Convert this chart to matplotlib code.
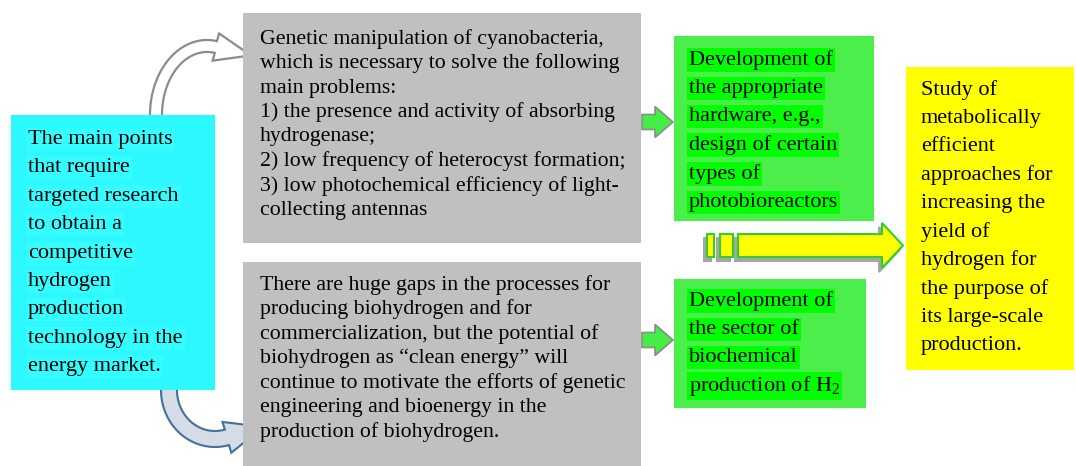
import numpy as np
import matplotlib.pyplot as plt
from matplotlib.patches import Rectangle, FancyArrow, Polygon

plt.rcParams['font.family'] = ['Liberation Serif', 'DejaVu Serif']
plt.rcParams['mathtext.fontset'] = 'custom'
plt.rcParams['mathtext.rm'] = 'Liberation Serif'

#-------------------------------------------------
# Texts of the boxes
#-------------------------------------------------
main_lines = ["The main points", "that require", "targeted research", "to obtain a",
              "competitive", "hydrogen", "production", "technology in the",
              "energy market."]
genetic_lines = ["Genetic manipulation of cyanobacteria,",
                 "which is necessary to solve the following",
                 "main problems:",
                 "1) the presence and activity of absorbing",
                 "hydrogenase;",
                 "2) low frequency of heterocyst formation;",
                 "3) low photochemical efficiency of light-",
                 "collecting antennas"]
gaps_lines = ["There are huge gaps in the processes for",
              "producing biohydrogen and for",
              "commercialization, but the potential of",
              "biohydrogen as \u201cclean energy\u201d will",
              "continue to motivate the efforts of genetic",
              "engineering and bioenergy in the",
              "production of biohydrogen."]
hardware_lines = ["Development of", "the appropriate", "hardware, e.g.,",
                  "design of certain", "types of", "photobioreactors"]
sector_lines = ["Development of", "the sector of", "biochemical",
                "production of H$_{2}$"]
study_lines = ["Study of", "metabolically", "efficient", "approaches for",
               "increasing the", "yield of", "hydrogen for", "the purpose of",
               "its large-scale", "production."]

fig = plt.figure(figsize=(10.76, 4.66), dpi=100)
ax = fig.add_axes([0, 0, 1, 1])
ax.set_xlim(0, 1076)
ax.set_ylim(466, 0)
ax.axis('off')


def box(x0, y0, x1, y1, color, lines, tx, ty, step, size, hl=None):
    ax.add_patch(Rectangle((x0, y0), x1 - x0, y1 - y0, facecolor=color,
                           edgecolor='none', zorder=2))
    for i, s in enumerate(lines):
        kw = {}
        if hl:
            kw['bbox'] = dict(facecolor=hl, edgecolor='none', pad=1.5)
        ax.text(tx, ty + i * step, s, fontsize=size, va='center', ha='left',
                color='black', zorder=4, **kw)


def curved_arrow(cx, cy, rx, ry, t0, t1, w, hw, hl, fc, ec, lw):
    # band along an elliptic arc (screen coords, y down) + a triangular head
    t = np.radians(np.linspace(t0, t1, 80))
    outer = np.c_[cx + (rx + w / 2) * np.cos(t), cy - (ry + w / 2) * np.sin(t)]
    inner = np.c_[cx + (rx - w / 2) * np.cos(t), cy - (ry - w / 2) * np.sin(t)]
    te = t[-1]
    sgn = np.sign(t1 - t0)
    p = np.array([cx + rx * np.cos(te), cy - ry * np.sin(te)])
    d = sgn * np.array([-rx * np.sin(te), -ry * np.cos(te)])
    d = d / np.hypot(*d)
    n = np.array([-d[1], d[0]])
    # tail hidden under the cyan box
    ext = np.array([0, 12]) if t1 < t0 else np.array([0, -12])
    head = [p + n * hw / 2, p + d * hl, p - n * hw / 2]
    if np.dot(head[0] - p, outer[-1] - p) < 0:
        head = head[::-1]
    pts = [outer[0] + ext] + list(outer) + head + list(inner[::-1]) + [inner[0] + ext]
    ax.add_patch(Polygon(pts, closed=True, facecolor=fc, edgecolor=ec,
                         lw=lw, joinstyle='miter', zorder=1))


#-------------------------------------------------
# Curved arrows (behind the boxes)
#-------------------------------------------------
curved_arrow(207, 115, 51, 69, 180, 80, 12, 28, 36, '#ffffff', '#8c8c8c', 1.6)
curved_arrow(215, 390, 46, 49, 180, 285, 16, 32, 38, '#d6dce5', '#41719c', 1.5)

#-------------------------------------------------
# Boxes
#-------------------------------------------------
box(11, 115, 215, 390, '#2ef8ff', main_lines, 28, 139.5, 28.4, 16, hl='#35fcff')
box(243, 13, 641, 243, '#c0c0c0', genetic_lines, 260, 39, 24.5, 15.7)
box(243, 262, 641, 470, '#c0c0c0', gaps_lines, 260, 285, 24.5, 15.7)
box(674, 36, 874, 221, '#4cee4c', hardware_lines, 689, 60, 28.4, 16, hl='#00ff00')
box(674, 279, 866, 408, '#4cee4c', sector_lines, 689, 301, 28.4, 16, hl='#00ff00')
box(906, 67, 1074, 370, '#ffff00', study_lines, 921, 90, 28.4, 16)

#-------------------------------------------------
# Small green arrows
#-------------------------------------------------
for yc in [122, 340]:
    ax.add_patch(FancyArrow(642, yc, 31, 0, width=15, head_width=31,
                            head_length=18, length_includes_head=True,
                            facecolor='#44ee44', edgecolor='#8c8c8c',
                            lw=1.2, zorder=3))

#-------------------------------------------------
# Big yellow arrow with shadow
#-------------------------------------------------
for dx, dy, fc, ec in [(-3, 4, '#a6a6a6', '#a6a6a6'), (0, 0, '#ffff00', '#33cc33')]:
    ax.add_patch(Rectangle((707 + dx, 234 + dy), 7, 23, facecolor=fc,
                           edgecolor=ec, lw=1.5, zorder=3))
    ax.add_patch(Rectangle((720 + dx, 234 + dy), 13, 23, facecolor=fc,
                           edgecolor=ec, lw=1.5, zorder=3))
    ax.add_patch(FancyArrow(738 + dx, 245.5 + dy, 165, 0, width=23,
                            head_width=45, head_length=21,
                            length_includes_head=True, facecolor=fc,
                            edgecolor=ec, lw=1.5, zorder=3))

fig.savefig("out.png", dpi=100)
